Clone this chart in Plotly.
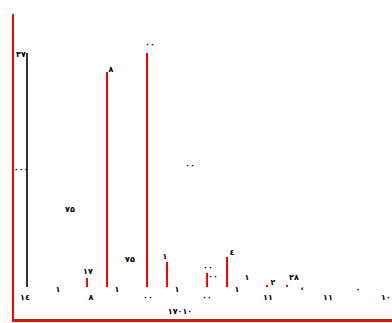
import plotly.graph_objects as go

# stems: position, top value, colour group
stem_x = [13, 73, 93, 133, 153, 193, 213, 253, 273]
stem_top = [266, 41, 247, 266, 57, 46, 62, 34, 34]
stem_color = ["#333333", "red", "red", "red", "red", "red", "red", "red", "red"]
base_value = 32

# labels
label_x = [7, 7, 56, 116, 74, 97, 136, 176, 151, 194, 199, 218, 44, 103, 163, 223, 233,
           259, 280, 288, 344, 11, 77, 134, 193, 254, 314, 372, 166]
label_y = [264, 149, 109, 59, 47, 249, 274, 153, 62, 51, 42, 66, 29, 29, 29, 29, 41,
           36, 41, 31, 29, 21, 21, 21, 21, 21, 21, 21, 7]
label_text = ["۳۷", "٠٠٠", "۷۵", "۷۵", "۱۷", "٨", "٠٠", "٠٠", "١", "٠٠", "٠٠", "٤", "١", "١", "١", "١", "١",
              "٢", "٢٨", "،", "٠", "١٤", "٨", "٠٠", "٠٠", "١١", "١١", "١٠", "١٧٠١٠"]

fig = go.Figure()
for xv, tv, cv in zip(stem_x, stem_top, stem_color):
    fig.add_trace(go.Scatter(x=[xv, xv], y=[base_value, tv], mode="lines",
                             line=dict(color=cv, width=2), hoverinfo="skip"))
fig.add_trace(go.Scatter(x=label_x, y=label_y, text=label_text, mode="text",
                         textfont=dict(family="DejaVu Sans", size=8, color="black", weight="bold"),
                         hoverinfo="skip"))

fig.update_layout(
    width=392, height=323, showlegend=False,
    margin=dict(l=14, r=0, t=14, b=4),
    plot_bgcolor="white", paper_bgcolor="white",
    xaxis=dict(range=[0, 378], showgrid=False, zeroline=False, showticklabels=False,
               ticks="", showline=True, linecolor="red", linewidth=3),
    yaxis=dict(range=[0, 305], showgrid=False, zeroline=False, showticklabels=False,
               ticks="", showline=True, linecolor="red", linewidth=2),
)
fig.write_html("out.html", config={"displayModeBar": False},
               post_script="document.body.style.margin='0';document.body.style.overflow='hidden';")
